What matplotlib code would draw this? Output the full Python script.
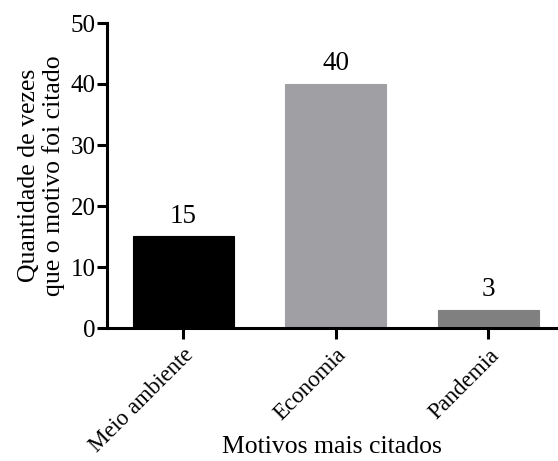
import matplotlib
matplotlib.use("Agg")
import matplotlib.pyplot as plt

categories = ["Meio ambiente", "Economia", "Pandemia"]
counts = [15, 40, 3]
bar_colors = ["#000000", "#a0a0a4", "#808080"]
y_ticks = [0, 10, 20, 30, 40, 50]

plt.rcParams["font.family"] = ["Liberation Serif", "DejaVu Serif"]

fig = plt.figure(figsize=(5.58, 4.61), dpi=100)
ax = fig.add_axes([107 / 558, 1 - 328 / 461, (557 - 107) / 558, (328 - 23) / 461])

x = list(range(len(categories)))
ax.bar(x, counts, width=0.66, color=bar_colors, edgecolor=bar_colors, linewidth=0.8)
for xi, v in zip(x, counts):
    ax.annotate(str(v), (xi, v), xytext=(0, 10), textcoords="offset points",
                ha="center", va="baseline", fontsize=19.5)

ax.set_xlim(-0.5, 2.45)
ax.set_ylim(0, 50)
ax.set_yticks(y_ticks)
ax.set_xticks(x)
ax.set_xticklabels(categories, rotation=45, ha="right", rotation_mode="anchor", fontsize=16.5)
ax.tick_params(axis="y", labelsize=18, width=2.2, length=7, direction="out", pad=1)
ax.tick_params(axis="x", width=2.2, length=8, direction="out", pad=4)

for side in ("top", "right"):
    ax.spines[side].set_visible(False)
for side in ("left", "bottom"):
    ax.spines[side].set_linewidth(2.2)

ax.set_ylabel("Quantidade de vezes\nque o motivo foi citado", fontsize=18.5, linespacing=1.15, labelpad=4)
ax.set_xlabel("Motivos mais citados", fontsize=18.5)
ax.xaxis.label.set_va("baseline")
ax.xaxis.set_label_coords(0.5, -0.41)

fig.savefig("out.png", dpi=100)
